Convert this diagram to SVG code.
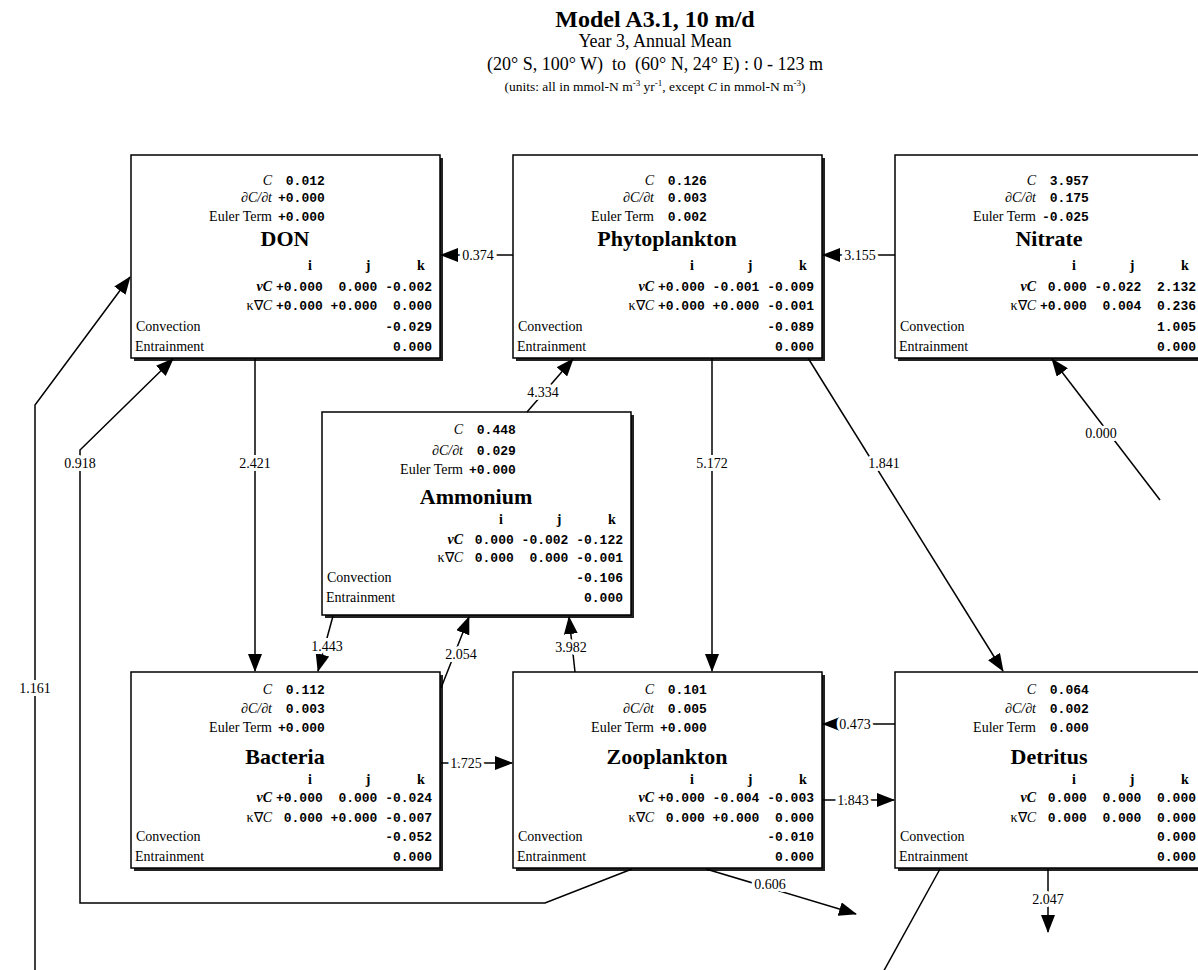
<svg xmlns="http://www.w3.org/2000/svg" width="1198" height="970" viewBox="0 0 1198 970">
<style>
.bx{fill:#fff;stroke:#000;stroke-width:1.5}
.sh{fill:#222}
.lb{font-family:"Liberation Serif",serif;font-size:14px}
.it{font-style:italic}
.bi{font-style:italic;font-weight:bold}
.v{font-family:"Liberation Mono",monospace;font-size:13px;font-weight:bold}
.nm{font-family:"Liberation Serif",serif;font-size:22px;font-weight:bold;text-anchor:middle}
.hd{font-family:"Liberation Serif",serif;font-size:14px;font-weight:bold;text-anchor:middle}
.e{text-anchor:end}
.cl{fill:none;stroke:#000;stroke-width:1.5}
.ln{font-family:"Liberation Serif",serif;font-size:14px;fill:#000;stroke:#fff;stroke-width:6;paint-order:stroke;text-anchor:middle}
.t1{font-family:"Liberation Serif",serif;font-size:24px;font-weight:bold;text-anchor:middle}
.t2{font-family:"Liberation Serif",serif;font-size:18px;text-anchor:middle}
.t3{font-family:"Liberation Serif",serif;font-size:13.5px;text-anchor:middle}
</style>
<defs>
<marker id="ah" viewBox="0 0 18 14" refX="17" refY="7" markerWidth="18" markerHeight="14" markerUnits="userSpaceOnUse" orient="auto"><path d="M0,0 L18,7 L0,14 z" fill="#000"/></marker>
</defs>
<rect width="1198" height="970" fill="#fff"/>
<g id="title">
<text class="t1" x="655" y="27">Model A3.1, 10 m/d</text>
<text class="t2" x="655" y="47">Year 3, Annual Mean</text>
<text class="t2" x="655" y="70" xml:space="preserve">(20° S, 100° W)  to  (60° N, 24° E) : 0 - 123 m</text>
<text class="t3" x="655" y="91">(units: all in mmol-N m<tspan dy="-5" font-size="9">-3</tspan><tspan dy="5"> yr</tspan><tspan dy="-5" font-size="9">-1</tspan><tspan dy="5">, except </tspan><tspan class="it">C</tspan> in mmol-N m<tspan dy="-5" font-size="9">-3</tspan><tspan dy="5">)</tspan></text>
</g>

<g id="don" transform="translate(131,155)">
<rect class="sh" x="3" y="3" width="309" height="203"/><rect class="bx" width="309" height="203"/>
<text class="lb e" x="141" y="30"><tspan class="it">C</tspan></text><text class="v" x="147" y="30" xml:space="preserve"> 0.012</text>
<text class="lb e it" x="141" y="47">∂C/∂t</text><text class="v" x="147" y="47" xml:space="preserve">+0.000</text>
<text class="lb e" x="141" y="66">Euler Term</text><text class="v" x="147" y="66" xml:space="preserve">+0.000</text>
<text class="nm" x="154" y="91">DON</text>
<text class="hd" x="179" y="115">i</text><text class="hd" x="237" y="115">j</text><text class="hd" x="290" y="115">k</text>
<text class="lb e bi" x="141" y="136">vC</text><text class="v e" x="301" y="136" xml:space="preserve">+0.000  0.000 -0.002</text>
<text class="lb e" x="141" y="155">κ∇<tspan class="it">C</tspan></text><text class="v e" x="301" y="155" xml:space="preserve">+0.000 +0.000  0.000</text>
<text class="lb" x="5" y="176">Convection</text><text class="v e" x="301" y="176">-0.029</text>
<text class="lb" x="4" y="196">Entrainment</text><text class="v e" x="301" y="196">0.000</text>
</g>

<g id="phytoplankton" transform="translate(513,155)">
<rect class="sh" x="3" y="3" width="309" height="203"/><rect class="bx" width="309" height="203"/>
<text class="lb e" x="141" y="30"><tspan class="it">C</tspan></text><text class="v" x="147" y="30" xml:space="preserve"> 0.126</text>
<text class="lb e it" x="141" y="47">∂C/∂t</text><text class="v" x="147" y="47" xml:space="preserve"> 0.003</text>
<text class="lb e" x="141" y="66">Euler Term</text><text class="v" x="147" y="66" xml:space="preserve"> 0.002</text>
<text class="nm" x="154" y="91">Phytoplankton</text>
<text class="hd" x="179" y="115">i</text><text class="hd" x="237" y="115">j</text><text class="hd" x="290" y="115">k</text>
<text class="lb e bi" x="141" y="136">vC</text><text class="v e" x="301" y="136" xml:space="preserve">+0.000 -0.001 -0.009</text>
<text class="lb e" x="141" y="155">κ∇<tspan class="it">C</tspan></text><text class="v e" x="301" y="155" xml:space="preserve">+0.000 +0.000 -0.001</text>
<text class="lb" x="5" y="176">Convection</text><text class="v e" x="301" y="176">-0.089</text>
<text class="lb" x="4" y="196">Entrainment</text><text class="v e" x="301" y="196">0.000</text>
</g>

<g id="nitrate" transform="translate(895,155)">
<rect class="sh" x="3" y="3" width="309" height="203"/><rect class="bx" width="309" height="203"/>
<text class="lb e" x="141" y="30"><tspan class="it">C</tspan></text><text class="v" x="147" y="30" xml:space="preserve"> 3.957</text>
<text class="lb e it" x="141" y="47">∂C/∂t</text><text class="v" x="147" y="47" xml:space="preserve"> 0.175</text>
<text class="lb e" x="141" y="66">Euler Term</text><text class="v" x="147" y="66" xml:space="preserve">-0.025</text>
<text class="nm" x="154" y="91">Nitrate</text>
<text class="hd" x="179" y="115">i</text><text class="hd" x="237" y="115">j</text><text class="hd" x="290" y="115">k</text>
<text class="lb e bi" x="141" y="136">vC</text><text class="v e" x="301" y="136" xml:space="preserve"> 0.000 -0.022  2.132</text>
<text class="lb e" x="141" y="155">κ∇<tspan class="it">C</tspan></text><text class="v e" x="301" y="155" xml:space="preserve">+0.000  0.004  0.236</text>
<text class="lb" x="5" y="176">Convection</text><text class="v e" x="301" y="176">1.005</text>
<text class="lb" x="4" y="196">Entrainment</text><text class="v e" x="301" y="196">0.000</text>
</g>

<g id="ammonium" transform="translate(322,412)">
<rect class="sh" x="3" y="3" width="309" height="203"/><rect class="bx" width="309" height="203"/>
<text class="lb e" x="141" y="22"><tspan class="it">C</tspan></text><text class="v" x="147" y="22" xml:space="preserve"> 0.448</text>
<text class="lb e it" x="141" y="43">∂C/∂t</text><text class="v" x="147" y="43" xml:space="preserve"> 0.029</text>
<text class="lb e" x="141" y="62">Euler Term</text><text class="v" x="147" y="62" xml:space="preserve">+0.000</text>
<text class="nm" x="154" y="92">Ammonium</text>
<text class="hd" x="179" y="112">i</text><text class="hd" x="237" y="112">j</text><text class="hd" x="290" y="112">k</text>
<text class="lb e bi" x="141" y="132">vC</text><text class="v e" x="301" y="132" xml:space="preserve"> 0.000 -0.002 -0.122</text>
<text class="lb e" x="141" y="150">κ∇<tspan class="it">C</tspan></text><text class="v e" x="301" y="150" xml:space="preserve"> 0.000  0.000 -0.001</text>
<text class="lb" x="5" y="170">Convection</text><text class="v e" x="301" y="170">-0.106</text>
<text class="lb" x="4" y="190">Entrainment</text><text class="v e" x="301" y="190">0.000</text>
</g>

<g id="bacteria" transform="translate(131,672)">
<rect class="sh" x="3" y="3" width="309" height="196"/><rect class="bx" width="309" height="196"/>
<text class="lb e" x="141" y="22"><tspan class="it">C</tspan></text><text class="v" x="147" y="22" xml:space="preserve"> 0.112</text>
<text class="lb e it" x="141" y="41">∂C/∂t</text><text class="v" x="147" y="41" xml:space="preserve"> 0.003</text>
<text class="lb e" x="141" y="60">Euler Term</text><text class="v" x="147" y="60" xml:space="preserve">+0.000</text>
<text class="nm" x="154" y="92">Bacteria</text>
<text class="hd" x="179" y="112">i</text><text class="hd" x="237" y="112">j</text><text class="hd" x="290" y="112">k</text>
<text class="lb e bi" x="141" y="130">vC</text><text class="v e" x="301" y="130" xml:space="preserve">+0.000  0.000 -0.024</text>
<text class="lb e" x="141" y="150">κ∇<tspan class="it">C</tspan></text><text class="v e" x="301" y="150" xml:space="preserve"> 0.000 +0.000 -0.007</text>
<text class="lb" x="5" y="169">Convection</text><text class="v e" x="301" y="169">-0.052</text>
<text class="lb" x="4" y="189">Entrainment</text><text class="v e" x="301" y="189">0.000</text>
</g>

<g id="zooplankton" transform="translate(513,672)">
<rect class="sh" x="3" y="3" width="309" height="196"/><rect class="bx" width="309" height="196"/>
<text class="lb e" x="141" y="22"><tspan class="it">C</tspan></text><text class="v" x="147" y="22" xml:space="preserve"> 0.101</text>
<text class="lb e it" x="141" y="41">∂C/∂t</text><text class="v" x="147" y="41" xml:space="preserve"> 0.005</text>
<text class="lb e" x="141" y="60">Euler Term</text><text class="v" x="147" y="60" xml:space="preserve">+0.000</text>
<text class="nm" x="154" y="92">Zooplankton</text>
<text class="hd" x="179" y="112">i</text><text class="hd" x="237" y="112">j</text><text class="hd" x="290" y="112">k</text>
<text class="lb e bi" x="141" y="130">vC</text><text class="v e" x="301" y="130" xml:space="preserve">+0.000 -0.004 -0.003</text>
<text class="lb e" x="141" y="150">κ∇<tspan class="it">C</tspan></text><text class="v e" x="301" y="150" xml:space="preserve"> 0.000 +0.000  0.000</text>
<text class="lb" x="5" y="169">Convection</text><text class="v e" x="301" y="169">-0.010</text>
<text class="lb" x="4" y="189">Entrainment</text><text class="v e" x="301" y="189">0.000</text>
</g>

<g id="detritus" transform="translate(895,672)">
<rect class="sh" x="3" y="3" width="309" height="196"/><rect class="bx" width="309" height="196"/>
<text class="lb e" x="141" y="22"><tspan class="it">C</tspan></text><text class="v" x="147" y="22" xml:space="preserve"> 0.064</text>
<text class="lb e it" x="141" y="41">∂C/∂t</text><text class="v" x="147" y="41" xml:space="preserve"> 0.002</text>
<text class="lb e" x="141" y="60">Euler Term</text><text class="v" x="147" y="60" xml:space="preserve"> 0.000</text>
<text class="nm" x="154" y="92">Detritus</text>
<text class="hd" x="179" y="112">i</text><text class="hd" x="237" y="112">j</text><text class="hd" x="290" y="112">k</text>
<text class="lb e bi" x="141" y="130">vC</text><text class="v e" x="301" y="130" xml:space="preserve"> 0.000  0.000  0.000</text>
<text class="lb e" x="141" y="150">κ∇<tspan class="it">C</tspan></text><text class="v e" x="301" y="150" xml:space="preserve"> 0.000  0.000  0.000</text>
<text class="lb" x="5" y="169">Convection</text><text class="v e" x="301" y="169">0.000</text>
<text class="lb" x="4" y="189">Entrainment</text><text class="v e" x="301" y="189">0.000</text>
</g>

<g id="connectors">
<path class="cl" d="M513,255 L441,255" marker-end="url(#ah)"/>
<path class="cl" d="M895,255 L823,255" marker-end="url(#ah)"/>
<path class="cl" d="M255,358 L255,671" marker-end="url(#ah)"/>
<path class="cl" d="M712,358 L712,671" marker-end="url(#ah)"/>
<path class="cl" d="M808,358 L1003,671" marker-end="url(#ah)"/>
<path class="cl" d="M527,412 L573,359" marker-end="url(#ah)"/>
<path class="cl" d="M333,616 L318,671" marker-end="url(#ah)"/>
<path class="cl" d="M441,688 L469,617" marker-end="url(#ah)"/>
<path class="cl" d="M575,672 L569,617" marker-end="url(#ah)"/>
<path class="cl" d="M441,763 L512,763" marker-end="url(#ah)"/>
<path class="cl" d="M895,724 L823,724" marker-end="url(#ah)"/>
<path class="cl" d="M823,800 L894,800" marker-end="url(#ah)"/>
<path class="cl" d="M1048,869 L1048,932" marker-end="url(#ah)"/>
<path class="cl" d="M706,869 L856,914" marker-end="url(#ah)"/>
<path class="cl" d="M632,869 L545,903 L80,903 L80,450 L173,359" marker-end="url(#ah)"/>
<path class="cl" d="M940,869 L876,985 L35,985 L35,405 L130,277" marker-end="url(#ah)"/>
<path class="cl" d="M1160,500 L1052,359" marker-end="url(#ah)"/>
<text class="ln" x="478" y="260">0.374</text>
<text class="ln" x="860" y="260">3.155</text>
<text class="ln" x="255" y="468">2.421</text>
<text class="ln" x="712" y="468">5.172</text>
<text class="ln" x="884" y="468">1.841</text>
<text class="ln" x="543" y="397">4.334</text>
<text class="ln" x="327" y="651">1.443</text>
<text class="ln" x="461" y="659">2.054</text>
<text class="ln" x="571" y="652">3.982</text>
<text class="ln" x="466" y="768">1.725</text>
<text class="ln" x="855" y="729">0.473</text>
<text class="ln" x="853" y="805">1.843</text>
<text class="ln" x="1048" y="904">2.047</text>
<text class="ln" x="770" y="889">0.606</text>
<text class="ln" x="80" y="468">0.918</text>
<text class="ln" x="35" y="693">1.161</text>
<text class="ln" x="1101" y="438">0.000</text>
</g>
</svg>
